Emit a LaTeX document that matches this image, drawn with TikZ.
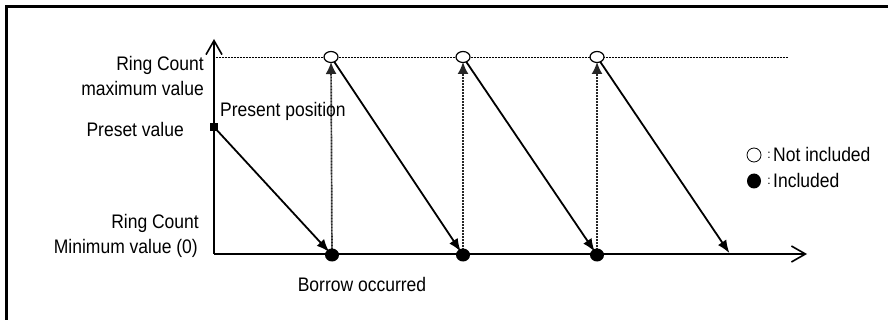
\documentclass[tikz,border=0pt]{standalone}
\usepackage{fontspec}
\setmainfont{Liberation Sans}
\usetikzlibrary{arrows.meta,shapes.geometric}
\begin{document}
\begin{tikzpicture}[x=1pt,y=-1pt,
  lbl/.style={inner sep=0pt, font=\fontsize{17.5}{20}\selectfont, yscale=1.12, transform shape},
  axisline/.style={line width=2pt, -{Straight Barb[length=14pt,width=16pt,line width=1.6pt]}},
  fall/.style={line width=1.8pt, -{Latex[length=13pt,width=10pt]}},
  rise/.style={line width=1.7pt, dash pattern=on 1pt off 0.5pt, black!85, -{Latex[length=12pt,width=11pt]}},
  maxline/.style={line width=1pt, dash pattern=on 1pt off 0.5pt},
  openpt/.style={ellipse, draw, line width=1.2pt, fill=white, minimum width=14pt, minimum height=11pt, inner sep=0pt},
  fullpt/.style={ellipse, fill=black, minimum width=14pt, minimum height=13pt, inner sep=0pt},
  legopen/.style={circle, draw, line width=0.8pt, fill=white, minimum size=14pt, inner sep=0pt},
  legfull/.style={ellipse, fill=black, minimum width=14pt, minimum height=15pt, inner sep=0pt},
  colon/.style={inner sep=0pt, font=\fontsize{12}{12}\selectfont},
  sq/.style={rectangle, fill=black, minimum size=8pt, inner sep=0pt}
]
\clip (0,0) rectangle (888,320);
% frame (only left and top edges visible)
\draw[line width=3pt] (6.5,330) -- (6.5,7) -- (900,7);

% coordinates
\coordinate (O) at (214,254);
\coordinate (ytop) at (214,39);
\coordinate (xend) at (807,254);
\coordinate (mstart) at (214,58);
\coordinate (mend) at (788,58);
\coordinate (t1) at (331,57);
\coordinate (t2) at (463,57);
\coordinate (t3) at (597,57);
\coordinate (b1) at (332,255);
\coordinate (b2) at (463,255);
\coordinate (b3) at (597,255);
\coordinate (e4) at (730,254);
\coordinate (ps) at (214,127);

% axes
\draw[axisline] (O) -- (ytop);
\draw[axisline] (O) -- (xend);
\draw[maxline] (mstart) -- (mend);

% rises
\draw[rise, shorten >=5pt] (b1) -- (t1);
\draw[rise, shorten >=5pt] (b2) -- (t2);
\draw[rise, shorten >=5pt] (b3) -- (t3);

% falls
\draw[fall, shorten >=4pt] (ps) -- (b1);
\draw[fall, shorten >=4pt] (t1) -- (b2);
\draw[fall, shorten >=4pt] (t2) -- (b3);
\draw[fall, shorten >=1pt] (t3) -- (e4);

% points
\node[openpt] (o1) at (t1) {};
\node[openpt] (o2) at (t2) {};
\node[openpt] (o3) at (t3) {};
\node[fullpt] (f1) at (b1) {};
\node[fullpt] (f2) at (b2) {};
\node[fullpt] (f3) at (b3) {};
\node[sq] (psq) at (ps) {};

% labels
\node[lbl, anchor=base east] (rc1) at (204,71) {Ring Count};
\node[lbl, anchor=base east] (mx) at (204,96) {maximum value};
\node[lbl, anchor=base east] (pv) at (184,137) {Preset value};
\node[lbl, anchor=base west] (pp) at (220,117) {Present position};
\node[lbl, anchor=base east] (rc2) at (199,229) {Ring Count};
\node[lbl, anchor=base east] (mn) at (198,254) {Minimum value (0)};
\node[lbl, anchor=base] (bo) at (362,291) {Borrow occurred};

% legend
\node[legopen] (lo) at (754,155) {};
\node[legfull] (lf) at (754,181) {};
\node[colon] (c1) at (769,155) {:};
\node[colon] (c2) at (769,181) {:};
\node[lbl, anchor=base west] (ni) at (773,162) {Not included};
\node[lbl, anchor=base west] (in) at (773,188) {Included};
\end{tikzpicture}
\end{document}
